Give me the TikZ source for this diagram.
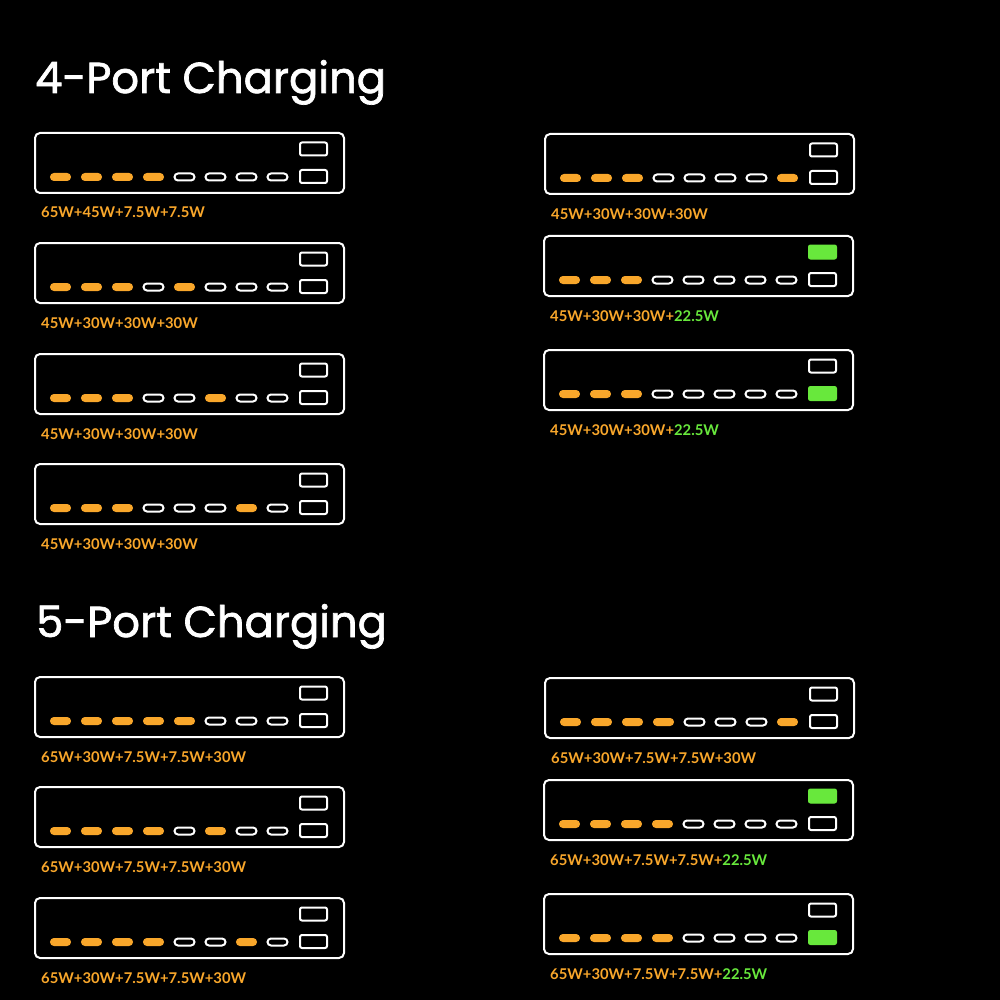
\documentclass[tikz,border=0pt]{standalone}
\usepackage{fontspec}
\setmainfont{Lato}
\newfontfamily\titlefont{Poppins}[FakeBold=1.6]
\usetikzlibrary{calc,positioning,shapes.misc}
\definecolor{chgorange}{HTML}{F9A72B}
\definecolor{chggreen}{HTML}{68E83C}
\tikzset{
  panel/.style    = {shape=rectangle, rounded corners=5pt, draw=white,
                     line width=2pt, minimum width=309pt, minimum height=60pt,
                     inner sep=0pt, anchor=north west},
  portoff/.style  = {shape=rounded rectangle, draw=white, line width=2pt,
                     minimum width=20pt, minimum height=7pt, inner sep=0pt},
  porton/.style   = {portoff, draw=chgorange, fill=chgorange, line width=1pt,
                     minimum width=20pt, minimum height=7pt},
  usboff/.style   = {shape=rectangle, rounded corners=2pt, draw=white,
                     line width=2pt, minimum width=27pt, minimum height=13pt,
                     inner sep=0pt},
  usbon/.style    = {usboff, draw=chggreen, fill=chggreen, line width=1pt,
                     minimum width=28pt, minimum height=14pt},
  powerlabel/.style = {anchor=base west, inner sep=0pt, text=chgorange,
                     font=\bfseries\fontsize{14.8pt}{16pt}\selectfont},
  heading/.style  = {anchor=base west, inner sep=0pt, text=white,
                     font=\titlefont\fontsize{43.3pt}{48pt}\selectfont}
}
% name, x, y, port states, top usb, bottom usb, label
\newcommand{\chargepanel}[7]{%
  \node[panel] (#1) at (#2,#3) {};
  \foreach \s [count=\i] in {#4}
    \node[port\s] (#1-p\i) at ($(#1.north west)+(26.5+31*\i-31,45)$) {};
  \node[#5] (#1-top) at ($(#1.north west)+(279.5,17)$) {};
  \node[#6] (#1-bot) at ($(#1.north west)+(279.5,44.5)$) {};
  \node[powerlabel] (#1-lbl) at ($(#1.south west)+(7,24)$) {#7};
}
\newcommand{\gw}[1]{\textcolor{chggreen}{#1}}

\begin{document}
\begin{tikzpicture}[x=1pt,y=-1pt]
\fill[black] (0,0) rectangle (1000,1000);
\useasboundingbox (0,0) rectangle (1000,1000);

\node[heading] (four) at (35,93) {4-Port Charging};
\node[heading] (five) at (36,637) {5-Port Charging};

% 4-port, left column
\chargepanel{fa}{34}{132}{on,on,on,on,off,off,off,off}{usboff}{usboff}{65W+45W+7.5W+7.5W}
\chargepanel{fb}{34}{242}{on,on,on,off,on,off,off,off}{usboff}{usboff}{45W+30W+30W+30W}
\chargepanel{fc}{34}{353}{on,on,on,off,off,on,off,off}{usboff}{usboff}{45W+30W+30W+30W}
\chargepanel{fd}{34}{463}{on,on,on,off,off,off,on,off}{usboff}{usboff}{45W+30W+30W+30W}
% 4-port, right column
\chargepanel{fe}{544}{133}{on,on,on,off,off,off,off,on}{usboff}{usboff}{45W+30W+30W+30W}
\chargepanel{ff}{543}{235}{on,on,on,off,off,off,off,off}{usbon}{usboff}{45W+30W+30W+\gw{22.5W}}
\chargepanel{fg}{543}{349}{on,on,on,off,off,off,off,off}{usboff}{usbon}{45W+30W+30W+\gw{22.5W}}

% 5-port, left column
\chargepanel{va}{34}{676}{on,on,on,on,on,off,off,off}{usboff}{usboff}{65W+30W+7.5W+7.5W+30W}
\chargepanel{vb}{34}{786}{on,on,on,on,off,on,off,off}{usboff}{usboff}{65W+30W+7.5W+7.5W+30W}
\chargepanel{vc}{34}{897}{on,on,on,on,off,off,on,off}{usboff}{usboff}{65W+30W+7.5W+7.5W+30W}
% 5-port, right column
\chargepanel{vd}{544}{677}{on,on,on,on,off,off,off,on}{usboff}{usboff}{65W+30W+7.5W+7.5W+30W}
\chargepanel{ve}{543}{779}{on,on,on,on,off,off,off,off}{usbon}{usboff}{65W+30W+7.5W+7.5W+\gw{22.5W}}
\chargepanel{vf}{543}{893}{on,on,on,on,off,off,off,off}{usboff}{usbon}{65W+30W+7.5W+7.5W+\gw{22.5W}}
\end{tikzpicture}
\end{document}
